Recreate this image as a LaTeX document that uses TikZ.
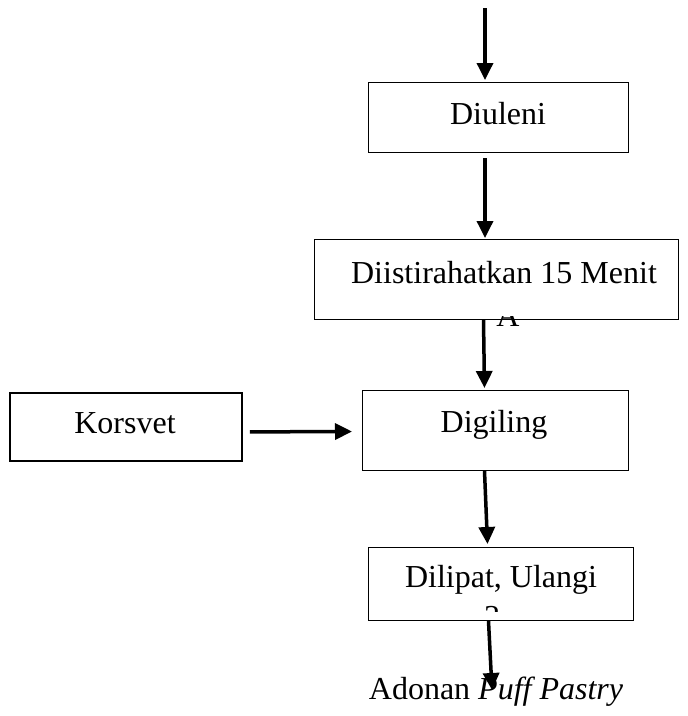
\documentclass[tikz,border=0pt]{standalone}
\usepackage{fontspec}
\setmainfont{Liberation Serif}
\usetikzlibrary{arrows.meta,calc}
\begin{document}
\begin{tikzpicture}[x=1pt,y=-1pt,
  box/.style={draw,line width=1pt,inner sep=0pt,anchor=north west},
  lbl/.style={anchor=base,inner sep=0pt,font=\fontsize{32}{37}\selectfont},
  arr/.style={line width=3.5pt,-{Triangle[length=17pt,width=16pt]}}]
\useasboundingbox (0,0) rectangle (688,716);
% partially hidden text lines (clipped)
\begin{scope}
  \clip (485,316) rectangle (535,326);
  \node[lbl] (ta) at (508,326) {A};
\end{scope}
\begin{scope}
  \clip (475,601) rectangle (525,611);
  \node[lbl] (t3x) at (500,627) {3x};
\end{scope}
% boxes
\node[box,minimum width=260pt,minimum height=70pt] (diuleni) at (368,82) {};
\node[box,minimum width=364pt,minimum height=80pt] (dist) at (314,239) {};
\node[box,line width=1.8pt,minimum width=232pt,minimum height=68pt] (korsvet) at (9,392) {};
\node[box,minimum width=266pt,minimum height=80pt] (digiling) at (362,390) {};
\node[box,minimum width=265pt,minimum height=73pt] (dilipat) at (368,547) {};
% texts
\node[lbl] (t1) at (498,124) {Diuleni};
\node[lbl] (t2) at (504,283) {Diistirahatkan 15 Menit};
\node[lbl] (t3) at (125,433) {Korsvet};
\node[lbl] (t4) at (494,432) {Digiling};
\node[lbl] (t5) at (501,587) {Dilipat, Ulangi};
\node[lbl] (out) at (496,699) {Adonan \textit{Puff Pastry}};
% connectors
\coordinate (s0) at (485,8);
\draw[arr] (s0) -- ($(diuleni.north -| s0)+(0,-2)$);
\draw[arr] ($(diuleni.south -| s0)+(0,5)$) -- ($(dist.north -| s0)+(0,-1)$);
\draw[arr] ($(dist.south)+(-13,0)$) -- ($(digiling.north)+(-11,-2)$);
\draw[arr] ($(korsvet.east)+(7,5)$) -- ($(digiling.west)+(-10,1)$);
\draw[arr] ($(digiling.south)+(-11,0)$) -- ($(dilipat.north)+(-13.5,-3)$);
\draw[arr] ($(dilipat.south)+(-12.5,0)$) -- ($(out.base)+(-4,-9)$);
\end{tikzpicture}
\end{document}
